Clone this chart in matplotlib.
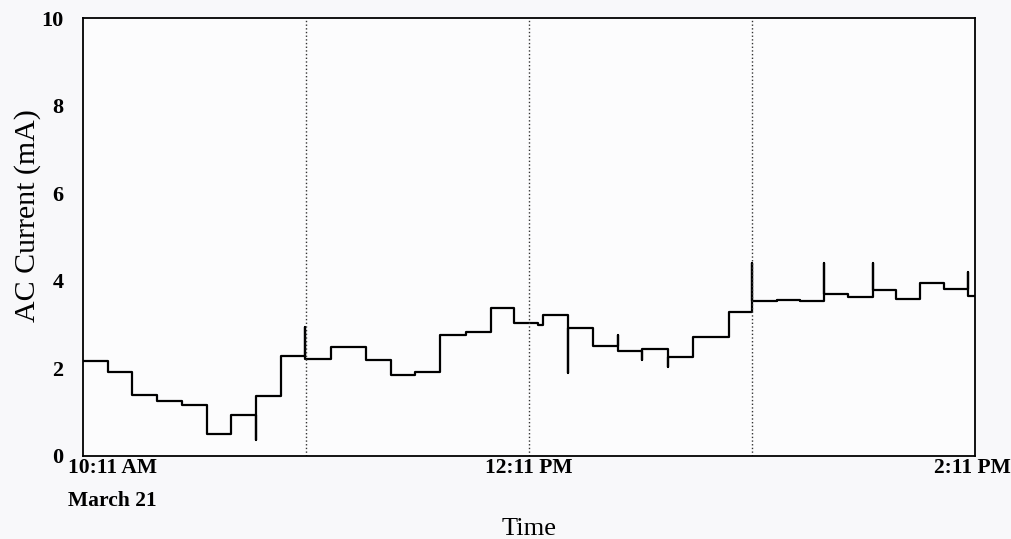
import matplotlib.pyplot as plt

# minutes after 10:11 AM where each level starts
t_start = [0, 6.6, 13.2, 19.9, 26.6, 33.3, 39.7, 46.5, 53.3, 59.6,
           66.6, 76.1, 82.8, 89.3, 96.0, 103.0, 109.7, 116.0, 122.5, 123.8,
           130.4, 137.3, 143.9, 150.5, 157.3, 164.2, 173.8, 180.1, 186.6, 192.9,
           199.5, 205.9, 212.5, 218.7, 225.2, 231.7, 238.2]
level = [2.17, 1.92, 1.39, 1.26, 1.16, 0.50, 0.94, 1.37, 2.28, 2.22,
         2.49, 2.19, 1.85, 1.91, 2.76, 2.83, 3.39, 3.04, 2.99, 3.21,
         2.92, 2.52, 2.40, 2.44, 2.27, 2.71, 3.28, 3.54, 3.56, 3.54,
         3.70, 3.64, 3.79, 3.58, 3.96, 3.81, 3.66]
# short transients at a step change (time, peak value)
spike_t = [46.5, 59.6, 130.4, 143.9, 150.5, 157.3, 180.1, 199.5, 212.5, 238.2]
spike_v = [0.37, 2.95, 1.89, 2.76, 2.19, 2.04, 4.40, 4.40, 4.41, 4.21]
t_end = 240

tick_t = [0, 120, 240]
tick_lab = ['10:11 AM', '12:11 PM', '2:11 PM']

# merge spikes in as zero-length steps
xs, ys = [], []
for t, v in zip(t_start, level):
    if t in spike_t:
        xs.append(t)
        ys.append(spike_v[spike_t.index(t)])
    xs.append(t)
    ys.append(v)
xs.append(t_end)
ys.append(level[-1])

plt.rcParams['font.family'] = 'Liberation Serif'

fig = plt.figure(figsize=(10.11, 5.39), dpi=100, facecolor='#f8f8fa')
ax = fig.add_axes([0.0821, 0.154, 0.8823, 0.8126])
ax.set_facecolor('#fcfcfd')

ax.plot(xs, ys, drawstyle='steps-post', color='black', lw=1.6)
for t in [60, 120, 180]:
    ax.axvline(t, color='#333333', lw=1, ls=':')

ax.set_xlim(0, t_end)
ax.set_ylim(0, 10)
ax.set_yticks([0, 2, 4, 6, 8, 10])
ax.tick_params(axis='y', length=0, pad=14, labelsize=16)
for lab in ax.get_yticklabels():
    lab.set_fontweight('bold')
ax.set_xticks([])
for s in ax.spines.values():
    s.set_linewidth(1.3)

trans = ax.get_xaxis_transform()
kw = dict(transform=trans, va='center', fontsize=15.5, fontweight='bold')
ax.text(-4, -0.028, tick_lab[0], ha='left', **kw)
ax.text(-4, -0.103, 'March 21', ha='left', **kw)
ax.text(tick_t[1], -0.028, tick_lab[1], ha='center', **kw)
ax.text(249.5, -0.028, tick_lab[2], ha='right', **kw)

ax.set_xlabel('Time', fontsize=19, va='center')
ax.xaxis.set_label_coords(0.5, -0.166)
ax.set_ylabel('AC Current (mA)', fontsize=21.5, va='center')
ax.yaxis.set_label_coords(-0.062, 0.548)

fig.savefig('out.png', dpi=100, facecolor=fig.get_facecolor())
